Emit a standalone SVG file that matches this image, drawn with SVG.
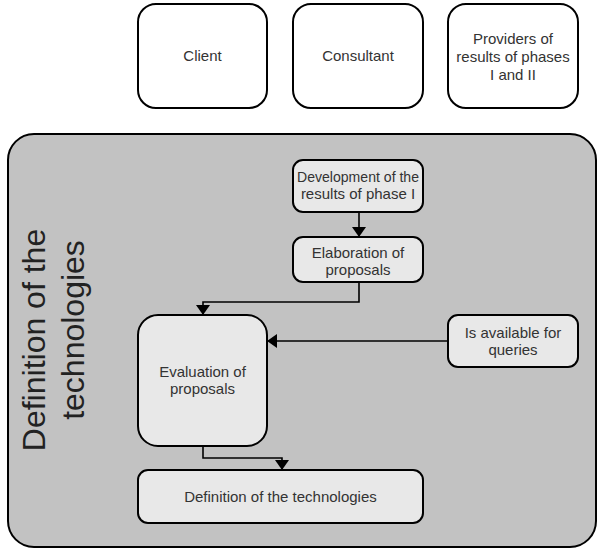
<svg xmlns="http://www.w3.org/2000/svg" width="597" height="549" viewBox="0 0 597 549">
  <defs>
    <marker id="arrow" viewBox="0 0 10 14" refX="10" refY="7" markerWidth="10" markerHeight="14" markerUnits="userSpaceOnUse" orient="auto">
      <path d="M0,0 L10,7 L0,14 Z" fill="#000"/>
    </marker>
    <style>
      .box { fill: #ffffff; stroke: #000; stroke-width: 2; }
      .inner { fill: #e8e8e8; stroke: #000; stroke-width: 2; }
      .lane { fill: #c2c2c2; stroke: #000; stroke-width: 2; }
      .lbl { font-family: "Liberation Sans", Arial, sans-serif; font-size: 15px; fill: #333; text-anchor: middle; }
      .title { font-family: "Liberation Sans", Arial, sans-serif; font-size: 32px; fill: #222; text-anchor: middle; }
      .conn { fill: none; stroke: #000; stroke-width: 1.6; }
    </style>
  </defs>

  <rect width="597" height="549" fill="#ffffff"/>

  <!-- Role headers -->
  <g id="client">
    <rect class="box" x="138" y="4" width="129" height="104" rx="18"/>
    <text class="lbl" x="202.5" y="61">Client</text>
  </g>
  <g id="consultant">
    <rect class="box" x="293" y="4" width="130" height="104" rx="18"/>
    <text class="lbl" x="358" y="61">Consultant</text>
  </g>
  <g id="providers">
    <rect class="box" x="448" y="4" width="130" height="104" rx="18"/>
    <text class="lbl" x="513" y="44">Providers of</text>
    <text class="lbl" x="513" y="62">results of phases</text>
    <text class="lbl" x="513" y="80">I and II</text>
  </g>

  <!-- Phase lane -->
  <g id="lane">
    <rect class="lane" x="8" y="134" width="588" height="413" rx="26"/>
    <g transform="rotate(-90)">
      <text class="title" x="-340" y="45">Definition of the</text>
      <text class="title" x="-330" y="84">technologies</text>
    </g>
  </g>

  <!-- Activities -->
  <g id="development">
    <rect class="inner" x="293" y="160" width="130" height="52" rx="10"/>
    <text class="lbl" x="358" y="182" font-size="14" textLength="122" lengthAdjust="spacingAndGlyphs">Development of the</text>
    <text class="lbl" x="358" y="199" font-size="14">results of phase I</text>
  </g>
  <g id="elaboration">
    <rect class="inner" x="293" y="237" width="130" height="45" rx="10"/>
    <text class="lbl" x="358" y="258">Elaboration of</text>
    <text class="lbl" x="358" y="275">proposals</text>
  </g>
  <g id="evaluation">
    <rect class="inner" x="138" y="315" width="129" height="131" rx="20"/>
    <text class="lbl" x="202.5" y="377">Evaluation of</text>
    <text class="lbl" x="202.5" y="394">proposals</text>
  </g>
  <g id="queries">
    <rect class="inner" x="448" y="315" width="130" height="52" rx="10"/>
    <text class="lbl" x="513" y="338">Is available for</text>
    <text class="lbl" x="513" y="355">queries</text>
  </g>
  <g id="definition">
    <rect class="inner" x="138" y="470" width="285" height="53" rx="10"/>
    <text class="lbl" x="280.5" y="502">Definition of the technologies</text>
  </g>

  <!-- Connectors -->
  <g id="connectors">
    <path class="conn" d="M359,212 V237" marker-end="url(#arrow)"/>
    <path class="conn" d="M359,282 V302 H203 V315" marker-end="url(#arrow)"/>
    <path class="conn" d="M448,341 H267" marker-end="url(#arrow)"/>
    <path class="conn" d="M203,446 V458 H282 V470" marker-end="url(#arrow)"/>
  </g>
</svg>
